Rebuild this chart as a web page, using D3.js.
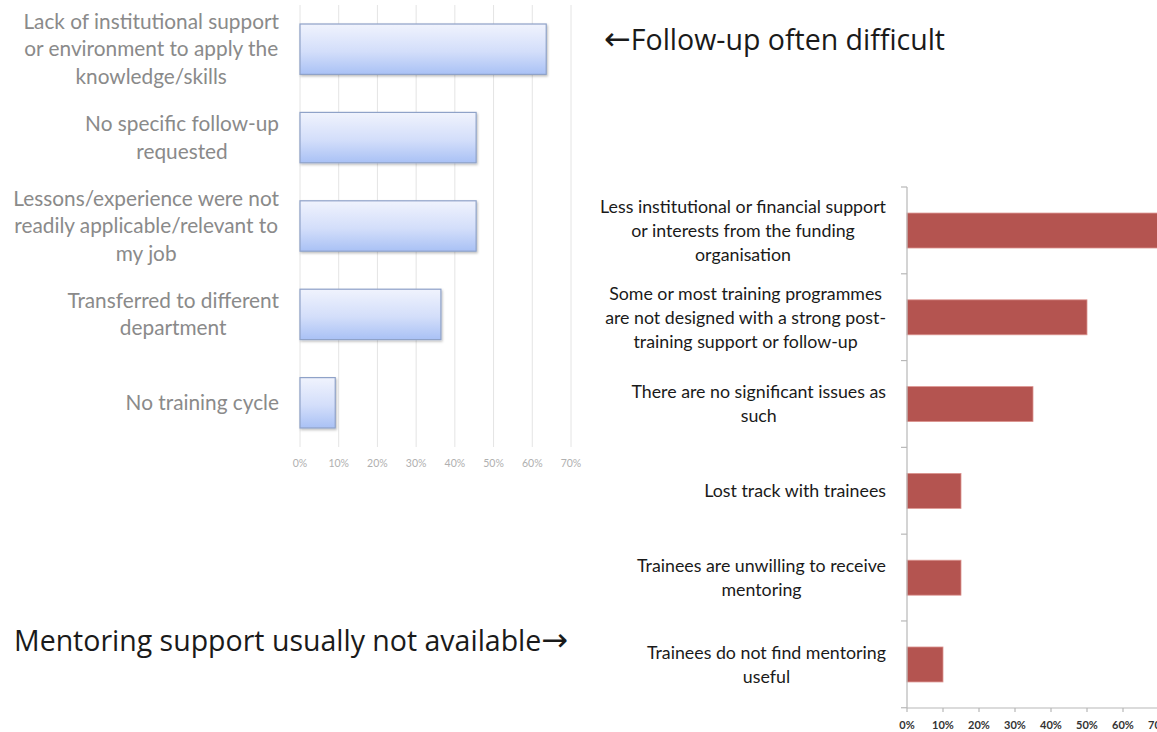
<!DOCTYPE html>
<html>
<head>
<meta charset="utf-8">
<script src="https://cdn.jsdelivr.net/npm/d3@7/dist/d3.min.js"></script>
<style>
  html, body { margin: 0; padding: 0; background: #fff; }
  svg { display: block; }
</style>
</head>
<body>
<svg id="chart" width="1157" height="732"></svg>
<script>
// Left chart: why follow-up did not happen (share of respondents)
var leftCats = [
  "Lack of institutional support\nor environment to apply the\nknowledge/skills",
  "No specific follow-up\nrequested",
  "Lessons/experience were not\nreadily applicable/relevant to\nmy job",
  "Transferred to different\ndepartment",
  "No training cycle"
];
var leftValues = [0.636, 0.455, 0.455, 0.364, 0.091];
var leftTicks = [0, 0.1, 0.2, 0.3, 0.4, 0.5, 0.6, 0.7];

// Right chart: issues with mentoring support
var rightCats = [
  "Less institutional or financial support\nor interests from the funding\norganisation",
  "Some or most training programmes\nare not designed with a strong post-\ntraining support or follow-up",
  "There are no significant issues as\nsuch",
  "Lost track with trainees",
  "Trainees are unwilling to receive\nmentoring",
  "Trainees do not find mentoring\nuseful"
];
var rightValues = [0.75, 0.50, 0.35, 0.15, 0.15, 0.10];
var rightTicks = [0, 0.1, 0.2, 0.3, 0.4, 0.5, 0.6, 0.7];

var svg = d3.select("#chart");
var pct = d3.format(".0%");
var labelFont = "Lato, 'Open Sans', sans-serif";

// multi-line label, lines centred on each other, block right-aligned at xRight
function blockLabel(g, text, xRight, yMid, size, lh, color) {
  var lines = text.split("\n");
  var t = g.append("g");
  var els = lines.map(function (s, i) {
    return t.append("text")
      .attr("y", yMid + (i - (lines.length - 1) / 2) * lh)
      .attr("dy", "0.35em")
      .attr("text-anchor", "middle")
      .style("font-family", labelFont)
      .style("font-size", size + "px")
      .attr("fill", color)
      .text(s);
  });
  var w = d3.max(els, function (e) { return e.node().getComputedTextLength(); });
  els.forEach(function (e) { e.attr("x", xRight - w / 2); });
}

// ---------- left chart ----------
var lx = d3.scaleLinear().domain([0, 0.7]).range([300, 571]);
var ly = d3.scaleBand().domain(leftCats).range([5, 447]).paddingInner(0.43).paddingOuter(0.215);

var defs = svg.append("defs");
var grad = defs.append("linearGradient").attr("id", "blueGrad")
  .attr("x1", 0).attr("y1", 0).attr("x2", 0).attr("y2", 1);
grad.append("stop").attr("offset", "0%").attr("stop-color", "#f0f3fd");
grad.append("stop").attr("offset", "55%").attr("stop-color", "#d3defa");
grad.append("stop").attr("offset", "100%").attr("stop-color", "#a9c1f5");
var shadow = defs.append("filter").attr("id", "shadow").attr("x", "-5%").attr("y", "-10%").attr("width", "115%").attr("height", "130%");
shadow.append("feDropShadow").attr("dx", 1).attr("dy", 1.5).attr("stdDeviation", 1.2)
  .attr("flood-color", "#000").attr("flood-opacity", 0.25);

var left = svg.append("g");
left.selectAll("line.grid").data(leftTicks).join("line")
  .attr("x1", lx).attr("x2", lx).attr("y1", 5).attr("y2", 447)
  .attr("stroke", "#e4e4e4").attr("stroke-width", 1);

left.selectAll("text.tick").data(leftTicks).join("text")
  .attr("x", lx).attr("y", 463).attr("dy", "0.35em")
  .attr("text-anchor", "middle")
  .style("font-family", labelFont).style("font-size", "10.5px")
  .attr("fill", "#b0b0b0")
  .text(pct);

left.selectAll("rect.bar").data(leftValues).join("rect")
  .attr("x", lx(0))
  .attr("y", function (d, i) { return ly(leftCats[i]); })
  .attr("width", function (d) { return lx(d) - lx(0); })
  .attr("height", ly.bandwidth())
  .attr("fill", "url(#blueGrad)")
  .attr("stroke", "#8fa2c8").attr("stroke-width", 1.2)
  .attr("filter", "url(#shadow)");

leftCats.forEach(function (c) {
  blockLabel(left, c, 279, ly(c) + ly.bandwidth() / 2, 20.8, 27.5, "#8a8a8a");
});

// ---------- right chart ----------
var rx = d3.scaleLinear().domain([0, 0.7]).range([907, 1159]);
var ry = d3.scaleBand().domain(rightCats).range([187, 708]).paddingInner(0.597).paddingOuter(0.3);

var right = svg.append("g");
right.selectAll("rect.bar").data(rightValues).join("rect")
  .attr("x", rx(0))
  .attr("y", function (d, i) { return ry(rightCats[i]); })
  .attr("width", function (d) { return rx(d) - rx(0); })
  .attr("height", ry.bandwidth())
  .attr("fill", "#b45450")
  .attr("stroke", "#dc9490").attr("stroke-width", 0.8);

// vertical axis with ticks at category boundaries
var step = ry.step();
var bounds = d3.range(rightCats.length + 1).map(function (i) { return 187 + i * step; });
right.append("line").attr("x1", 907).attr("x2", 907).attr("y1", 187).attr("y2", 708)
  .attr("stroke", "#b8b8b8").attr("stroke-width", 1.2);
right.selectAll("line.ytick").data(bounds).join("line")
  .attr("x1", 901).attr("x2", 907).attr("y1", function (d) { return d; }).attr("y2", function (d) { return d; })
  .attr("stroke", "#b8b8b8").attr("stroke-width", 1.2);

// horizontal axis
right.append("line").attr("x1", 907).attr("x2", 1157).attr("y1", 708).attr("y2", 708)
  .attr("stroke", "#b8b8b8").attr("stroke-width", 1.2);
right.selectAll("line.xtick").data(rightTicks).join("line")
  .attr("x1", rx).attr("x2", rx).attr("y1", 708).attr("y2", 712)
  .attr("stroke", "#b8b8b8").attr("stroke-width", 1.2);
right.selectAll("text.xlab").data(rightTicks).join("text")
  .attr("x", rx).attr("y", 725).attr("dy", "0.35em")
  .attr("text-anchor", "middle")
  .style("font-family", labelFont).style("font-size", "11px").style("font-weight", "bold")
  .attr("fill", "#333")
  .text(pct);

rightCats.forEach(function (c) {
  blockLabel(right, c, 886, ry(c) + ry.bandwidth() / 2, 17.8, 24, "#1a1a1a");
});

// ---------- annotations ----------
var t1 = svg.append("text").attr("x", 604).attr("y", 50)
  .style("font-family", "'Open Sans', sans-serif").style("font-size", "28.5px")
  .attr("fill", "#1a1a1a");
t1.append("tspan").style("font-family", "'DejaVu Sans', sans-serif").style("font-size", "32px").text("\u2190");
t1.append("tspan").text("Follow-up often difficult");

var t2 = svg.append("text").attr("x", 14).attr("y", 651)
  .style("font-family", "'Open Sans', sans-serif").style("font-size", "28.5px")
  .attr("fill", "#1a1a1a");
t2.append("tspan").text("Mentoring support usually not available");
t2.append("tspan").style("font-family", "'DejaVu Sans', sans-serif").style("font-size", "32px").text("\u2192");
</script>
</body>
</html>
